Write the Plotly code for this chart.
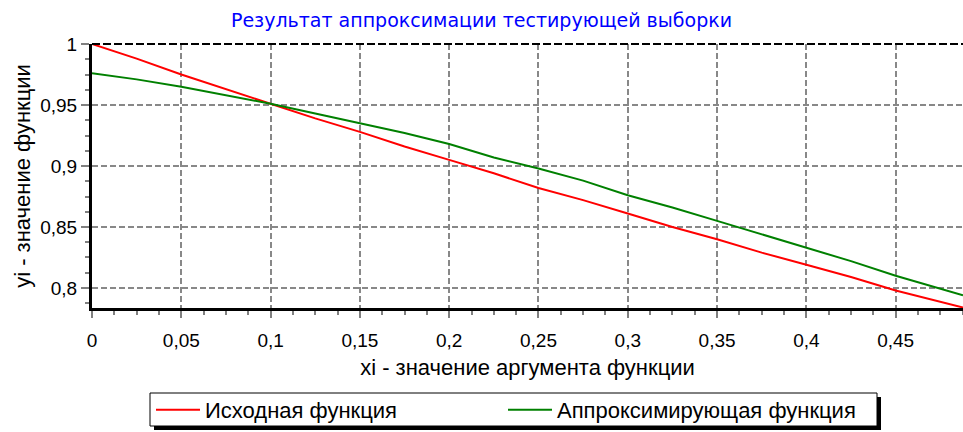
import plotly.graph_objects as go

# ---- data ----
x_vals = [0, 0.025, 0.05, 0.075, 0.1, 0.125, 0.15, 0.175, 0.2, 0.225, 0.25,
          0.275, 0.3, 0.325, 0.35, 0.375, 0.4, 0.425, 0.45, 0.475, 0.4877]
y_source = [1.000, 0.988, 0.975, 0.963, 0.951, 0.939, 0.928, 0.916, 0.905, 0.894, 0.882,
            0.872, 0.861, 0.850, 0.840, 0.829, 0.819, 0.809, 0.798, 0.789, 0.784]
y_approx = [0.976, 0.971, 0.965, 0.958, 0.951, 0.943, 0.935, 0.927, 0.918, 0.907, 0.898,
            0.888, 0.876, 0.866, 0.855, 0.844, 0.833, 0.822, 0.810, 0.799, 0.794]

x_ticks = [0, 0.05, 0.1, 0.15, 0.2, 0.25, 0.3, 0.35, 0.4, 0.45]
x_tick_labels = ["0", "0,05", "0,1", "0,15", "0,2", "0,25", "0,3", "0,35", "0,4", "0,45"]
y_ticks = [0.8, 0.85, 0.9, 0.95, 1.0]
y_tick_labels = ["0,8", "0,85", "0,9", "0,95", "1"]

name_source = "Исходная функция"
name_approx = "Аппроксимирующая функция"
title_text = "Результат аппроксимации тестирующей выборки"
x_title = "xi - значение аргумента функции"
y_title = "yi - значение функции"

W, H = 963, 432
ML, MR, MT, MB = 92, 0, 44, 124
PW, PH = W - ML - MR, H - MT - MB


def px_x(p):
    return (p - ML) / PW


def px_y(p):
    return (H - MB - p) / PH


FONT = "Liberation Sans"

fig = go.Figure()
fig.add_trace(go.Scatter(x=x_vals, y=y_source, mode="lines", name=name_source,
                         line=dict(color="#FF0000", width=2), legend="legend"))
fig.add_trace(go.Scatter(x=x_vals, y=y_approx, mode="lines", name=name_approx,
                         line=dict(color="#008000", width=2), legend="legend2"))

grid = dict(showgrid=True, gridcolor="#888888", gridwidth=2, griddash="6px,3px")

fig.update_xaxes(range=[0, 0.4877], tickvals=x_ticks, ticktext=x_tick_labels,
                 ticks="outside", ticklen=7, tickwidth=2, tickcolor="#808080",
                 showline=True, linecolor="black", linewidth=3, zeroline=False,
                 automargin=False, ticklabelstandoff=6,
                 tickfont=dict(family=FONT, size=19, color="black"),
                 minor=dict(dtick=0.0125, tick0=0, ticks="outside", ticklen=4,
                            tickwidth=2, tickcolor="#808080", showgrid=False),
                 title=dict(text=x_title, font=dict(family=FONT, size=22, color="black"),
                            standoff=10),
                 **grid)
fig.update_yaxes(range=[0.7836, 1.0], tickvals=y_ticks, ticktext=y_tick_labels,
                 ticks="outside", ticklen=8, tickwidth=2, tickcolor="#808080",
                 showline=True, linecolor="black", linewidth=3, zeroline=False,
                 automargin=False,
                 tickfont=dict(family=FONT, size=19, color="black"),
                 minor=dict(dtick=0.0125, tick0=0.8, ticks="outside", ticklen=4,
                            tickwidth=2, tickcolor="#808080", showgrid=False),
                 title=dict(text=y_title, font=dict(family=FONT, size=22, color="black"),
                            standoff=4),
                 **grid)

shapes = [
    # dashed black top border
    dict(type="line", xref="paper", yref="paper", x0=0, x1=1, y0=1, y1=1,
         line=dict(color="black", width=2, dash="8px,3px")),
    # legend shadow
    dict(type="rect", xref="paper", yref="paper", layer="above",
         x0=px_x(154), x1=px_x(881), y0=px_y(430), y1=px_y(397),
         fillcolor="black", line=dict(width=0)),
    # legend box
    dict(type="rect", xref="paper", yref="paper", layer="above",
         x0=px_x(150), x1=px_x(877), y0=px_y(426), y1=px_y(393),
         fillcolor="white", line=dict(color="black", width=1)),
]

legend_common = dict(orientation="h", bgcolor="rgba(0,0,0,0)", borderwidth=0,
                     itemwidth=44,
                     font=dict(family=FONT, size=22, color="black"),
                     xanchor="left", yanchor="middle", y=px_y(410))

fig.update_layout(
    width=W, height=H,
    margin=dict(l=ML, r=MR, t=MT, b=MB, autoexpand=False),
    paper_bgcolor="white", plot_bgcolor="white",
    separators=", ",
    title=dict(text=title_text, x=0.5, xanchor="center", y=1 - 20 / H, yanchor="middle",
               font=dict(family="DejaVu Sans", size=19, color="#0000FF")),
    showlegend=True,
    legend=dict(x=px_x(151), **legend_common),
    legend2=dict(x=px_x(503), **legend_common),
    shapes=shapes,
)

fig.write_html("out.html", config={"displayModeBar": False},
               post_script="document.body.style.margin='0';")
